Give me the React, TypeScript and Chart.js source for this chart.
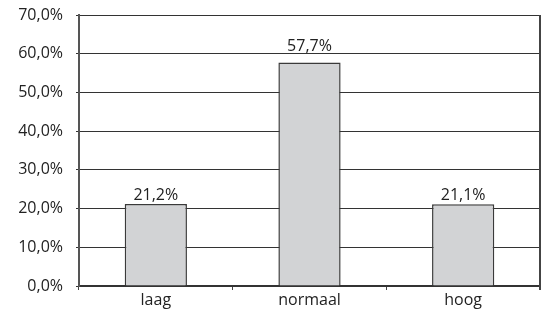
import React, { useEffect, useRef } from "react";
import { Chart, registerables } from "chart.js";

Chart.register(...registerables);

const categories = ["laag", "normaal", "hoog"];
const values = [21.2, 57.7, 21.1];
const yTicks = [0, 10, 20, 30, 40, 50, 60, 70];

const fmt = (v: number) => v.toFixed(1).replace(".", ",") + "%";
const FONT = "'Open Sans', 'DejaVu Sans', sans-serif";

const labelPlugin = {
  id: "labels",
  afterDatasetsDraw(chart: any) {
    const ctx = chart.ctx;
    const meta = chart.getDatasetMeta(0);
    const yScale = chart.scales.y;
    const gridYs = yTicks.map((t) => yScale.getPixelForValue(t));
    ctx.save();
    ctx.fillStyle = "#222";
    ctx.font = `16px ${FONT}`;
    ctx.textAlign = "center";
    ctx.textBaseline = "alphabetic";
    const h = 12;
    meta.data.forEach((bar: any, i: number) => {
      let bottom = bar.y - 4;
      for (const gy of gridYs) {
        if (gy >= bottom - h - 1 && gy <= bottom + 2) bottom = gy - 3;
      }
      ctx.fillText(fmt(values[i]), bar.x, bottom);
    });
    ctx.restore();
  },
  beforeDatasetsDraw(chart: any) {
    const { ctx, chartArea } = chart;
    ctx.save();
    ctx.strokeStyle = "#444";
    ctx.lineWidth = 2;
    ctx.beginPath();
    ctx.moveTo(chartArea.right, chartArea.top);
    ctx.lineTo(chartArea.right, chartArea.bottom + 4);
    ctx.stroke();
    ctx.restore();
  },
};

export default function App() {
  const ref = useRef<HTMLCanvasElement>(null);
  useEffect(() => {
    const chart = new Chart(ref.current!, {
      type: "bar",
      data: {
        labels: categories,
        datasets: [
          {
            data: values,
            backgroundColor: "#d2d3d5",
            borderColor: "#3a3a3a",
            borderWidth: 1.5,
            barPercentage: 0.405,
            categoryPercentage: 1,
          },
        ],
      },
      options: {
        animation: false,
        responsive: false,
        maintainAspectRatio: false,
        layout: { padding: { left: 0, right: 6, top: 15, bottom: 0 } },
        plugins: { legend: { display: false }, tooltip: { enabled: false } },
        scales: {
          x: {
            offset: true,
            grid: {
              offset: true,
              drawOnChartArea: false,
              drawTicks: true,
              tickLength: 4,
              color: "#444",
              lineWidth: 1,
            },
            border: { color: "#333", width: 2 },
            ticks: { color: "#222", font: { family: FONT, size: 16 }, padding: 1 },
            afterFit: (s: any) => {
              s.height = 25;
              s.paddingLeft = 0;
              s.paddingRight = 0;
            },
          },
          y: {
            min: 0,
            max: 70,
            afterBuildTicks: (s: any) => {
              s.ticks = yTicks.map((v) => ({ value: v }));
            },
            grid: { color: "#333", lineWidth: 1, tickLength: 3 },
            border: { color: "#555", width: 2 },
            ticks: {
              color: "#222",
              font: { family: FONT, size: 16 },
              padding: 13,
              callback: (v: any) => fmt(Number(v)),
            },
            afterFit: (s: any) => {
              s.width = 79;
              s.paddingTop = 0;
              s.paddingBottom = 0;
            },
          },
        },
      },
      plugins: [labelPlugin],
    });
    return () => chart.destroy();
  }, []);
  return (
    <div style={{ position: "absolute", left: 0, top: 0, width: 546, height: 311, background: "#fff" }}>
      <canvas ref={ref} width={546} height={311} style={{ width: 546, height: 311 }} />
    </div>
  );
}
